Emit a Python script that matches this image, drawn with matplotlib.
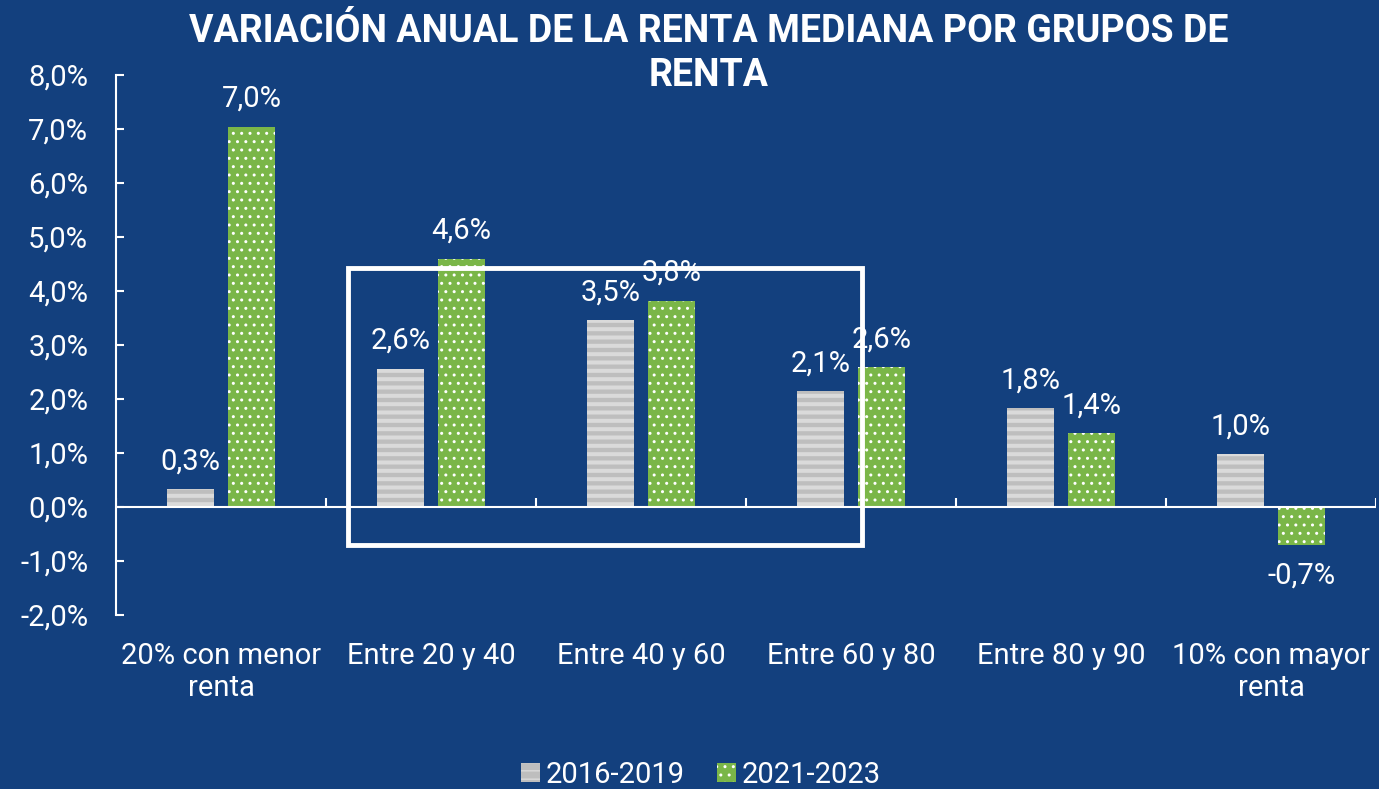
import matplotlib
matplotlib.use("Agg")
import matplotlib.pyplot as plt
import numpy as np
from matplotlib.patches import Rectangle

categories = ["20% con menor\nrenta", "Entre 20 y 40", "Entre 40 y 60",
              "Entre 60 y 80", "Entre 80 y 90", "10% con mayor\nrenta"]
s2016 = [0.33, 2.56, 3.46, 2.14, 1.83, 0.98]
s2021 = [7.04, 4.60, 3.82, 2.59, 1.37, -0.70]
lab2016 = ["0,3%", "2,6%", "3,5%", "2,1%", "1,8%", "1,0%"]
lab2021 = ["7,0%", "4,6%", "3,8%", "2,6%", "1,4%", "-0,7%"]
series_names = ["2016-2019", "2021-2023"]
yticks = [-2, -1, 0, 1, 2, 3, 4, 5, 6, 7, 8]

BG = "#13407E"
GREEN = "#7AB648"

plt.rcParams['font.family'] = ['Roboto', 'DejaVu Sans']

fig = plt.figure(figsize=(13.79, 7.89), dpi=100, facecolor=BG)
ax = fig.add_axes([116/1379, 1-615/789, 1260/1379, 540/789])
ax.set_facecolor(BG)

x = np.arange(len(categories))
w = 0.225
off = 0.145

plt.rcParams['hatch.linewidth'] = 2.9
b1 = ax.bar(x - off, s2016, w, color='#BEBEBE', edgecolor='#DADADA', linewidth=0,
            hatch='--', label=series_names[0], zorder=3)
for r in b1:
    if hasattr(r, 'set_hatch_linewidth'):
        r.set_hatch_linewidth(2.9)
plt.rcParams['hatch.linewidth'] = 1.0
b2 = ax.bar(x + off, s2021, w, color=GREEN, edgecolor='white', linewidth=0,
            hatch='..', label=series_names[1], zorder=3)
for r in b2:
    if hasattr(r, 'set_hatch_linewidth'):
        r.set_hatch_linewidth(1.0)

ax.set_xlim(-0.5, len(categories) - 0.5)
ax.set_ylim(-2, 8)
ax.set_yticks(yticks)
ax.set_yticklabels([f"{v:.1f}%".replace('.', ',') for v in yticks])
ax.tick_params(axis='y', colors='white', labelcolor='white', labelsize=21,
               length=6, width=1.5, direction='in', pad=20)
ax.set_xticks(x)
ax.set_xticklabels(categories)
ax.tick_params(axis='x', length=0, labelsize=21, labelcolor='white', pad=19.5)
for s in ['top', 'right', 'bottom']:
    ax.spines[s].set_visible(False)
ax.spines['left'].set_color('white')
ax.spines['left'].set_linewidth(1.5)

ax.axhline(0, color='white', lw=1.5, zorder=4)
ax.vlines(np.arange(len(categories) + 1) - 0.5, 0, 0.17, color='white', lw=1.5, zorder=4)

for r, t in zip(b1, lab2016):
    ax.annotate(t, (r.get_x() + r.get_width()/2, r.get_height()), xytext=(0, 10),
                textcoords='offset points', ha='center', va='bottom', color='white', fontsize=21)
for r, t, v in zip(b2, lab2021, s2021):
    if v >= 0:
        ax.annotate(t, (r.get_x() + r.get_width()/2, v), xytext=(0, 10),
                    textcoords='offset points', ha='center', va='bottom', color='white', fontsize=21)
    else:
        ax.annotate(t, (r.get_x() + r.get_width()/2, v), xytext=(0, -12),
                    textcoords='offset points', ha='center', va='top', color='white', fontsize=21)

# highlight box
box = Rectangle((348/1379, 1-545/789), (862-348)/1379, (545-268)/789, transform=fig.transFigure,
                fill=False, edgecolor='white', lw=3.5, zorder=10)
fig.patches.append(box)

fig.text(709/1379, 1-32/789, "VARIACIÓN ANUAL DE LA RENTA MEDIANA POR GRUPOS DE",
         ha='center', va='center', color='white', fontsize=27, fontweight='bold')
fig.text(709/1379, 1-76/789, "RENTA",
         ha='center', va='center', color='white', fontsize=27, fontweight='bold')

leg = fig.legend(handles=[b1, b2], labels=series_names, loc='center',
                 bbox_to_anchor=(701/1379, 1-775/789), ncol=2, frameon=False,
                 fontsize=21, labelcolor='white', handlelength=0.65, handleheight=0.65,
                 handletextpad=0.2, columnspacing=1.1)

fig.savefig("out.png", dpi=100, facecolor=BG)
